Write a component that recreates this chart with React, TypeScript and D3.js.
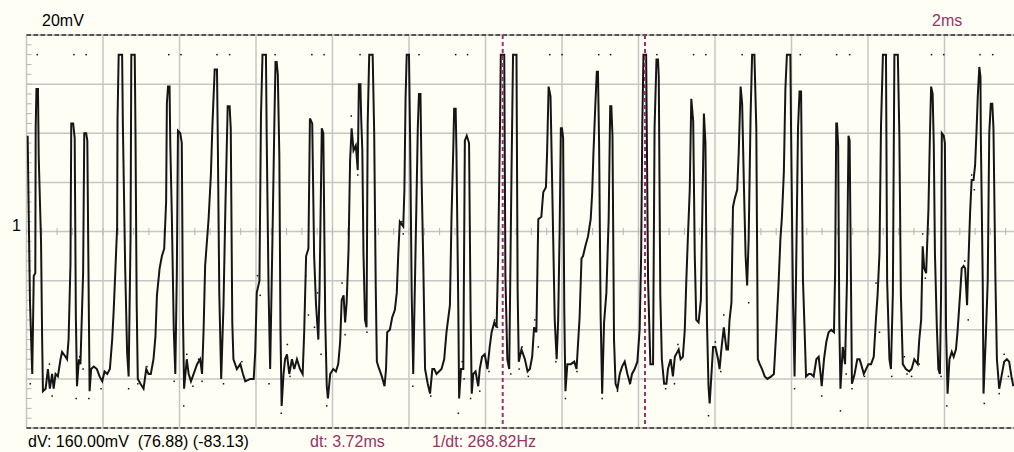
import React from 'react';
import * as d3 from 'd3';

// scope settings
const voltsPerDivLabel = '20mV';
const timePerDivLabel = '2ms';
const channelLabel = '1';
const readoutDv = 'dV: 160.00mV  (76.88) (-83.13)';
const readoutDt = 'dt: 3.72ms';
const readoutFreq = '1/dt: 268.82Hz';

// cursor positions (ms)
const cursorTimes = [12.45, 16.17];

// trace vertices: [time ms, value mV]
const trace: [number, number][] = [
  [0.03, 39], [0.09, -28], [0.15, -58], [0.19, -18], [0.23, -17], [0.24, 42], [0.26, 58], [0.3, 58], [0.32, 30], [0.38, -4],
  [0.41, -45], [0.43, -65], [0.5, -64], [0.56, -56], [0.61, -64], [0.67, -58], [0.71, -64], [0.76, -58], [0.82, -59], [0.89, -52],
  [0.93, -49], [1.02, -51], [1.06, -52], [1.1, -44], [1.15, -13], [1.17, 44], [1.22, 44], [1.26, 38], [1.29, -34], [1.32, -63],
  [1.37, -52], [1.41, -54], [1.45, -33], [1.48, -17], [1.51, 40], [1.56, 40], [1.59, 37], [1.63, -33], [1.65, -65], [1.69, -56],
  [1.76, -55], [1.84, -56], [1.91, -59], [1.98, -61], [2.04, -57], [2.11, -58], [2.18, -56], [2.24, -44], [2.28, -32], [2.32, -17],
  [2.37, 2], [2.38, 46], [2.41, 72], [2.5, 72], [2.52, 43], [2.58, -15], [2.63, -49], [2.67, -59], [2.72, -3], [2.74, 72],
  [2.83, 72], [2.85, 39], [2.88, -29], [2.91, -60], [2.98, -62], [3.06, -64], [3.13, -56], [3.19, -58], [3.25, -58], [3.32, -52],
  [3.37, -43], [3.41, -26], [3.48, -15], [3.54, -10], [3.6, -7], [3.65, 12], [3.67, 52], [3.7, 59], [3.74, 59], [3.76, 35],
  [3.8, 6], [3.85, -40], [3.89, -58], [3.93, -17], [3.96, 41], [4.02, 40], [4.06, 36], [4.09, -34], [4.12, -64], [4.19, -52],
  [4.24, -58], [4.3, -61], [4.37, -58], [4.46, -54], [4.54, -52], [4.59, -58], [4.63, -40], [4.67, -14], [4.76, 5], [4.82, 23],
  [4.86, 43], [4.92, 66], [4.98, 66], [5.0, 39], [5.04, -25], [5.09, -60], [5.15, -30], [5.2, 10], [5.26, 51], [5.31, 51],
  [5.34, 42], [5.38, -37], [5.41, -52], [5.5, -56], [5.59, -54], [5.66, -58], [5.72, -61], [5.85, -60], [5.94, -60], [5.98, -49],
  [6.02, -25], [6.09, -20], [6.13, 47], [6.17, 72], [6.26, 72], [6.28, 38], [6.33, -25], [6.37, -56], [6.43, -3], [6.48, 44],
  [6.51, 69], [6.54, 69], [6.57, 64], [6.61, 31], [6.64, -40], [6.67, -71], [6.72, -58], [6.76, -52], [6.81, -50], [6.87, -58],
  [6.94, -52], [7.0, -56], [7.07, -52], [7.15, -56], [7.22, -58], [7.26, -41], [7.31, -10], [7.37, -7], [7.41, 46], [7.47, 44],
  [7.52, -10], [7.57, -30], [7.63, -44], [7.66, -25], [7.72, 42], [7.76, 40], [7.81, -36], [7.85, -63], [7.88, -68], [7.94, -58],
  [8.02, -56], [8.09, -57], [8.15, -54], [8.2, -45], [8.24, -28], [8.29, -26], [8.33, -37], [8.37, -29], [8.42, -7], [8.46, 29],
  [8.5, 42], [8.55, 33], [8.61, 35], [8.66, 25], [8.69, 60], [8.73, 60], [8.75, 46], [8.78, 33], [8.81, -9], [8.85, -36],
  [8.89, -39], [8.92, 44], [8.96, 72], [9.05, 72], [9.09, 40], [9.13, -22], [9.16, -53], [9.2, -55], [9.29, -59], [9.36, -63],
  [9.4, -56], [9.43, -41], [9.5, -40], [9.56, -35], [9.63, -32], [9.68, -25], [9.72, -9], [9.76, 4], [9.85, 2], [9.88, 17],
  [9.91, 54], [9.94, 72], [10.0, 72], [10.03, 37], [10.07, -25], [10.11, -58], [10.16, -17], [10.23, 42], [10.26, 56], [10.3, 56],
  [10.33, 21], [10.37, -10], [10.42, -56], [10.49, -62], [10.55, -66], [10.61, -56], [10.66, -56], [10.72, -58], [10.85, -56], [10.92, -52],
  [10.98, -41], [11.07, -30], [11.11, 5], [11.16, 35], [11.18, 50], [11.22, 50], [11.24, 33], [11.29, -33], [11.31, -68], [11.36, -56],
  [11.42, -56], [11.46, 37], [11.51, 39], [11.57, 36], [11.61, -33], [11.64, -66], [11.68, -58], [11.74, -57], [11.81, -63], [11.85, -56],
  [11.91, -51], [11.98, -50], [12.05, -56], [12.11, -47], [12.16, -41], [12.23, -37], [12.29, -39], [12.33, -11], [12.38, 44], [12.4, 72],
  [12.49, 72], [12.52, -18], [12.57, -52], [12.62, -56], [12.68, 24], [12.72, 72], [12.81, 72], [12.84, -24], [12.87, -53], [12.94, -48],
  [13.03, -52], [13.1, -57], [13.16, -56], [13.22, -51], [13.27, -39], [13.33, -41], [13.38, 5], [13.46, 6], [13.51, 16], [13.58, 18],
  [13.61, 32], [13.65, 59], [13.7, 55], [13.77, -3], [13.81, -36], [13.86, -52], [13.9, -36], [13.94, 2], [13.97, 42], [14.0, 42],
  [14.03, 38], [14.06, -33], [14.09, -65], [14.14, -54], [14.23, -54], [14.32, -53], [14.38, -56], [14.46, -35], [14.51, -11], [14.55, -10],
  [14.61, -6], [14.68, -2], [14.75, 5], [14.79, 16], [14.82, 31], [14.87, 51], [14.91, 65], [14.94, 65], [14.97, 36], [15.01, -34],
  [15.05, -66], [15.1, -37], [15.16, -25], [15.22, 5], [15.26, 51], [15.29, 51], [15.32, 39], [15.36, -44], [15.4, -62], [15.45, -64],
  [15.51, -58], [15.57, -55], [15.64, -53], [15.71, -58], [15.78, -62], [15.83, -58], [15.9, -56], [15.97, -53], [16.03, -40], [16.07, -9],
  [16.1, 44], [16.13, 72], [16.2, 72], [16.25, -20], [16.31, -54], [16.38, -54], [16.42, 42], [16.47, 70], [16.51, 70], [16.53, 63],
  [16.57, -26], [16.61, -52], [16.67, -62], [16.73, -62], [16.77, -56], [16.84, -52], [16.9, -59], [16.95, -51], [17.05, -48], [17.1, -52],
  [17.16, -51], [17.21, -40], [17.25, -20], [17.29, -3], [17.34, 17], [17.38, 54], [17.43, 45], [17.47, -9], [17.51, -36], [17.57, -37],
  [17.63, -28], [17.66, -1], [17.71, 48], [17.75, 36], [17.79, -37], [17.83, -63], [17.86, -70], [17.9, -60], [17.95, -47], [18.01, -47],
  [18.08, -52], [18.12, -56], [18.16, -49], [18.23, -39], [18.3, -48], [18.34, -48], [18.38, -36], [18.43, -29], [18.47, 10], [18.51, 13],
  [18.58, 17], [18.62, 32], [18.67, 59], [18.71, 52], [18.76, 16], [18.8, -10], [18.84, -22], [18.88, -3], [18.93, 47], [18.97, 72],
  [19.03, 72], [19.08, 42], [19.12, -52], [19.17, -54], [19.23, -56], [19.3, -59], [19.37, -60], [19.47, -59], [19.54, -58], [19.6, -41],
  [19.66, -22], [19.71, -3], [19.75, 6], [19.8, 24], [19.84, 58], [19.88, 72], [19.97, 72], [19.99, 39], [20.04, -29], [20.08, -59],
  [20.12, -17], [20.17, 42], [20.21, 57], [20.25, 57], [20.27, 25], [20.3, -20], [20.34, -39], [20.38, -59], [20.45, -58], [20.51, -58],
  [20.58, -59], [20.65, -52], [20.71, -51], [20.76, -58], [20.79, -63], [20.85, -52], [20.91, -45], [20.97, -41], [21.04, -40], [21.11, -41],
  [21.14, -17], [21.17, 44], [21.19, 44], [21.22, 35], [21.25, -37], [21.28, -64], [21.34, -47], [21.4, -54], [21.45, -20], [21.49, 39],
  [21.52, 37], [21.58, -62], [21.65, -58], [21.72, -52], [21.78, -52], [21.82, -54], [21.89, -58], [21.95, -56], [22.01, -54], [22.08, -54],
  [22.15, -51], [22.21, -35], [22.25, -26], [22.3, -9], [22.34, 43], [22.39, 72], [22.47, 72], [22.5, -20], [22.56, -52], [22.6, -56],
  [22.65, -25], [22.69, 72], [22.78, 72], [22.82, 39], [22.86, -26], [22.91, -54], [22.99, -56], [23.08, -57], [23.14, -56], [23.21, -52],
  [23.3, -54], [23.34, -44], [23.39, -36], [23.43, -6], [23.47, -15], [23.52, -17], [23.58, 9], [23.62, 40], [23.65, 59], [23.69, 56],
  [23.72, 35], [23.75, -9], [23.8, -39], [23.84, -56], [23.88, -58], [23.91, -26], [23.93, 40], [23.98, 39], [24.01, 36], [24.04, -39],
  [24.08, -66], [24.13, -52], [24.19, -49], [24.24, -51], [24.3, -48], [24.34, -41], [24.41, -25], [24.45, -15], [24.5, -14], [24.54, -15],
  [24.59, -30], [24.62, -15], [24.67, 8], [24.71, 21], [24.76, 21], [24.8, 27], [24.84, 42], [24.87, 55], [24.91, 67], [24.94, 63],
  [24.95, 39], [25.0, -21], [25.02, -66], [25.08, -43], [25.13, -20], [25.17, 40], [25.21, 52], [25.25, 52], [25.28, 42], [25.33, -18],
  [25.37, -52], [25.43, -64], [25.49, -59], [25.56, -53], [25.63, -52], [25.69, -53], [25.75, -59], [25.8, -63],
];

// peak marker dots along the top (ms)
const peakMarks = [
  0.28, 1.24, 1.56, 3.72, 4.04, 4.98, 5.31, 6.5, 7.46, 7.78, 8.72, 10.26, 11.22, 11.53, 13.68, 14.0,
  14.96, 15.27, 16.48, 17.44, 17.76, 18.71, 20.23, 21.18, 21.52, 23.66, 23.98, 24.93, 25.26,
];

// scattered sample dots: [time ms, value mV]
const sampleDots: [number, number][] = [
  [0.1, -62], [0.67, -67], [0.6, -54], [1.3, -68], [1.39, -51], [1.48, -56], [1.63, -68], [1.95, -64], [2.67, -64], [2.91, -62],
  [3.15, -55], [3.86, -61], [4.11, -71], [4.19, -50], [4.35, -63], [4.5, -52], [4.59, -61], [5.15, -62], [5.63, -53], [6.04, -18],
  [6.11, -26], [6.34, -62], [6.66, -74], [6.82, -46], [6.89, -59], [7.3, -18], [7.37, -34], [7.53, -39], [7.61, -25], [7.7, -50],
  [7.85, -71], [8.25, -21], [8.33, -42], [8.49, 47], [8.66, 23], [8.9, -41], [9.81, 4], [9.85, -1], [10.1, -63], [10.57, -67],
  [10.66, -56], [11.29, -74], [11.39, -53], [11.44, -60], [11.61, -68], [11.85, -65], [12.09, -57], [12.24, -36], [12.31, -39], [12.66, -58],
  [12.88, -56], [12.96, -47], [13.12, -59], [13.29, -36], [13.38, -47], [13.84, -53], [14.09, -68], [14.39, -57], [15.05, -68], [15.45, -65],
  [15.77, -62], [16.71, -64], [16.94, -62], [17.03, -46], [17.83, -75], [18.01, -45], [18.15, -57], [18.23, -34], [18.88, -29], [20.08, -64],
  [20.79, -67], [21.28, -73], [21.43, -58], [21.58, -64], [21.91, -59], [22.21, -21], [22.3, -41], [22.62, -59], [22.95, -51], [23.02, -58],
  [23.14, -59], [23.34, -54], [23.43, -1], [23.5, -19], [23.91, -59], [24.06, -71], [24.53, -12], [24.62, -36], [24.71, 23], [24.78, 17],
  [25.04, -70], [25.43, -66], [25.56, -50], [25.67, -59],
];

const W = 1014;
const H = 452;
const BG = '#fefef4';
const MAROON = '#993366';
const FONT = '"Liberation Sans", Arial, sans-serif';

export default function App() {
  const x = d3.scaleLinear().domain([0, 24]).range([26.5, 944.5]);
  const y = d3.scaleLinear().domain([-80, 80]).range([428, 35]);
  const tMax = x.invert(W);

  const line = d3
    .line<[number, number]>()
    .x(d => x(d[0]))
    .y(d => y(d[1]));

  const majorT = d3.range(0, tMax, 2);
  const majorV = d3.range(-60, 61, 20);
  const minorT = d3.range(0, tMax, 0.4);
  const minorV = d3.range(-80, 81, 4);

  return (
    <svg
      width={W}
      height={H}
      style={{ position: 'absolute', left: 0, top: 0, background: BG }}
      fontFamily={FONT}
    >
      <defs>
        <clipPath id="plot">
          <rect x={x(0)} y={y(80)} width={W - x(0)} height={y(-80) - y(80)} />
        </clipPath>
      </defs>
      <rect width={W} height={H} fill={BG} />

      {/* grid */}
      <g stroke="#c6c6c6" strokeWidth={1.5}>
        {majorT.map(t => (
          <line key={'vt' + t} x1={x(t)} x2={x(t)} y1={y(80)} y2={y(-80)} />
        ))}
        {majorV.map(v => (
          <line key={'hv' + v} x1={x(0)} x2={W} y1={y(v)} y2={y(v)} />
        ))}
      </g>
      <g stroke="#b4b4b4" strokeWidth={1}>
        {minorT.map(t => (
          <line key={'mt' + t} x1={x(t)} x2={x(t)} y1={y(0) - 3.5} y2={y(0) + 3.5} />
        ))}
        {minorV.map(v => (
          <line key={'mv' + v} x1={x(0)} x2={x(0) + 5} y1={y(v)} y2={y(v)} />
        ))}
      </g>

      {/* dashed frame top & bottom */}
      {[80, -80].map(v => (
        <g key={'frame' + v}>
          <line x1={x(0)} x2={W} y1={y(v)} y2={y(v)} stroke="#c6c6c6" strokeWidth={2} />
          <line x1={x(0)} x2={W} y1={y(v)} y2={y(v)} stroke="#555" strokeWidth={2} strokeDasharray="4.5 2.5" />
        </g>
      ))}

      <g clipPath="url(#plot)">
        {/* green reference segment on second cursor */}
        <line
          x1={x(cursorTimes[1]) + 1}
          x2={x(cursorTimes[1]) + 1}
          y1={y(72)}
          y2={y(44)}
          stroke="#8fe6bd"
          strokeWidth={2}
        />
        <path d={line(trace) ?? ''} fill="none" stroke="#151515" strokeWidth={2} strokeLinejoin="miter" />
        {peakMarks.map((t, i) => (
          <rect key={'pm' + i} x={x(t) - 0.75} y={y(72) - 0.75} width={1.5} height={1.5} fill="#111" />
        ))}
        {sampleDots.map((d, i) => (
          <rect key={'sd' + i} x={x(d[0]) - 0.75} y={y(d[1]) - 0.75} width={1.5} height={1.5} fill="#111" />
        ))}
        {cursorTimes.map(t => (
          <line
            key={'cur' + t}
            x1={x(t)}
            x2={x(t)}
            y1={y(80)}
            y2={y(-80)}
            stroke="#a0306c"
            strokeWidth={2}
            strokeDasharray="4 3"
          />
        ))}
      </g>

      {/* labels */}
      <text x={42} y={26} fontSize={16} fill="#000">{voltsPerDivLabel}</text>
      <text x={932} y={26} fontSize={16} fill={MAROON}>{timePerDivLabel}</text>
      <text x={12} y={231} fontSize={16} fill="#000">{channelLabel}</text>
      <text x={28} y={447} fontSize={16} fill="#000" style={{ whiteSpace: 'pre' }}>{readoutDv}</text>
      <text x={310} y={447} fontSize={16} fill={MAROON}>{readoutDt}</text>
      <text x={432} y={447} fontSize={16} fill={MAROON}>{readoutFreq}</text>
    </svg>
  );
}
